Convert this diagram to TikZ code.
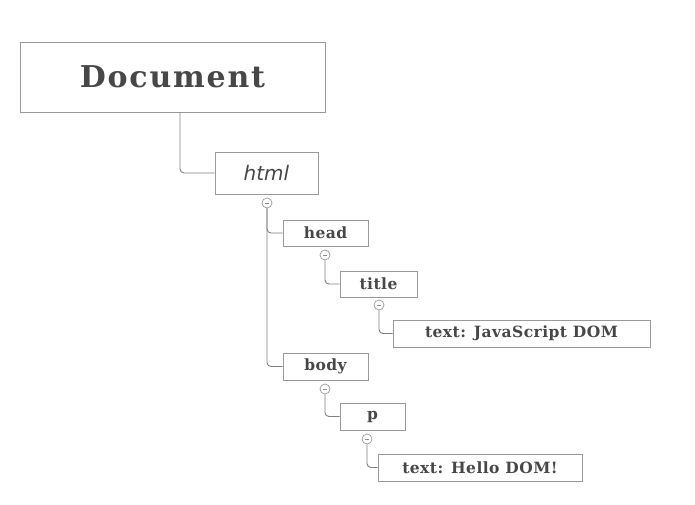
\documentclass[tikz,border=0pt]{standalone}
\usepackage{fontspec}
\setmainfont{DejaVu Serif}
\setsansfont{DejaVu Sans}
\newfontfamily\labelfont[LetterSpace=3]{DejaVu Serif}
\newfontfamily\titlefont[LetterSpace=6]{DejaVu Serif}
\begin{document}
\begin{tikzpicture}[x=1pt,y=-1pt,
  box/.style={draw=black!40,line width=0.8pt,inner sep=0pt,text=black!72,font=\labelfont\bfseries\fontsize{15.5}{18}\selectfont},
  knob/.style={circle,draw=black!40,line width=0.7pt,minimum size=10pt,inner sep=0pt,
    path picture={\draw[black!45,line width=0.6pt]([xshift=-2.2pt]path picture bounding box.center)--([xshift=2.2pt]path picture bounding box.center);}},
  link/.style={draw=black!50,line width=0.9pt,rounded corners=4pt}]
\useasboundingbox (0,0) rectangle (695,504);
\node[box,minimum width=305pt,minimum height=70pt,font=\titlefont\bfseries\fontsize{30}{34}\selectfont] (doc) at (172.5,77) {Document};
\node[box,minimum width=103pt,minimum height=42pt,font=\sffamily\itshape\fontsize{20}{22}\selectfont] (html) at (266.5,173) {html};
\node[knob] (hk) at (267,203) {};
\node[box,minimum width=85pt,minimum height=26pt] (head) at (325.5,233) {head};
\node[knob] (hdk) at (325,255) {};
\node[box,minimum width=77pt,minimum height=26pt] (title) at (378.5,284) {title};
\node[knob] (tk) at (379,305) {};
\node[box,minimum width=257pt,minimum height=27pt] (t1) at (521.5,333.5) {text: JavaScript DOM};
\node[box,minimum width=85pt,minimum height=27pt] (body) at (325.5,366.5) {body};
\node[knob] (bk) at (325,389) {};
\node[box,minimum width=65pt,minimum height=27pt] (p) at (372.5,416.5) {p};
\node[knob] (pk) at (367,439) {};
\node[box,minimum width=204pt,minimum height=27pt] (t2) at (480,467.5) {text: Hello DOM!};
\draw[link] ([xshift=7.5pt]doc.south) |- (html.west);
\draw[link] (hk.south) |- (head.west);
\draw[link] (hk.south) |- (body.west);
\draw[link] (hdk.south) |- (title.west);
\draw[link] (tk.south) |- (t1.west);
\draw[link] (bk.south) |- (p.west);
\draw[link] (pk.south) |- (t2.west);
\end{tikzpicture}
\end{document}
